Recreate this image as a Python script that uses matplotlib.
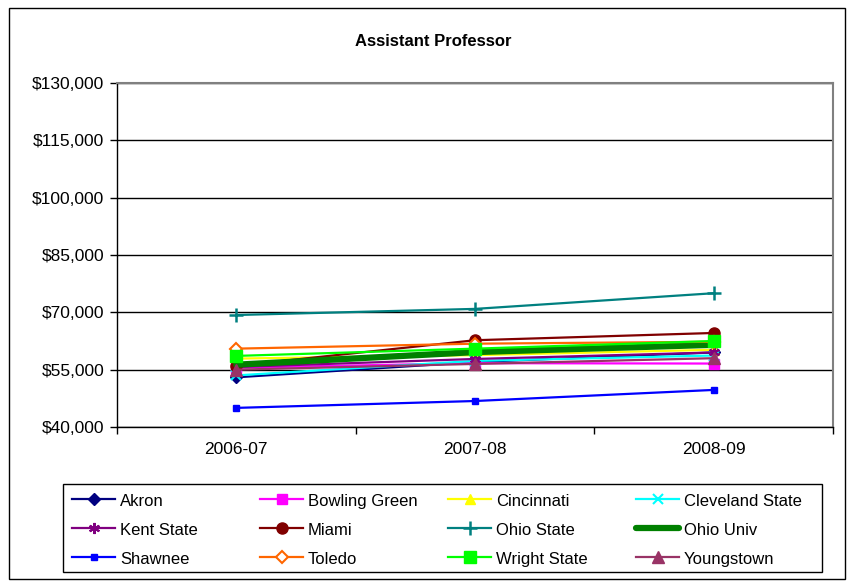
import matplotlib.pyplot as plt
from matplotlib.patches import Rectangle
from matplotlib.lines import Line2D
from matplotlib.ticker import FuncFormatter

plt.rcParams['font.family'] = ['Liberation Sans', 'DejaVu Sans']

# Salary data
years = ['2006-07', '2007-08', '2008-09']
akron = [53000, 57000, 59500]
bowling_green = [55500, 56700, 56600]
cincinnati = [57900, 58800, 60200]
cleveland_state = [53500, 57300, 58700]
kent_state = [55700, 57800, 59500]
miami = [56000, 62700, 64600]
ohio_state = [69300, 70900, 75000]
ohio_univ = [56300, 59600, 61500]
shawnee = [45000, 46800, 49700]
toledo = [60500, 61800, 62300]
wright_state = [58600, 60500, 62500]
youngstown = [55000, 56500, 58000]

W, H = 851, 581
fig = plt.figure(figsize=(W / 100, H / 100), dpi=100)
ax = fig.add_axes([117 / W, 1 - 427 / H, (833 - 117) / W, (427 - 83) / H])

x = range(len(years))
lw = 1.6
ms = 7

# name, values, style
styles = [
    ('Akron', akron, dict(color='#000080', lw=lw, marker='D', ms=6)),
    ('Bowling Green', bowling_green, dict(color='#FF00FF', lw=lw, marker='s', ms=ms)),
    ('Cincinnati', cincinnati, dict(color='#FFFF00', lw=lw, marker='^', ms=ms)),
    ('Cleveland State', cleveland_state, dict(color='#00FFFF', lw=lw, marker='x', ms=ms, mew=1.5)),
    ('Kent State', kent_state, dict(color='#800080', lw=lw, marker=(6, 2, 0), ms=ms + 1, mew=1.5)),
    ('Miami', miami, dict(color='#800000', lw=lw, marker='o', ms=ms + 1)),
    ('Ohio State', ohio_state, dict(color='#008080', lw=lw, marker='+', ms=ms + 3, mew=1.8)),
    ('Ohio Univ', ohio_univ, dict(color='#008000', lw=4.5, solid_capstyle='round')),
    ('Shawnee', shawnee, dict(color='#0000FF', lw=lw, marker='s', ms=4)),
    ('Toledo', toledo, dict(color='#FF6600', lw=lw, marker='D', ms=6, mfc='white', mew=1.5)),
    ('Wright State', wright_state, dict(color='#00FF00', lw=lw, marker='s', ms=ms + 2)),
    ('Youngstown', youngstown, dict(color='#993366', lw=lw, marker='^', ms=ms + 2)),
]

for name, vals, st in styles:
    ax.plot(x, vals, label=name, **st)

ax.set_xlim(-0.5, 2.5)
ax.set_ylim(40000, 130000)
ax.set_yticks(range(40000, 130001, 15000))
ax.yaxis.set_major_formatter(FuncFormatter(lambda v, p: f'${v:,.0f}'))
ax.set_xticks(list(x))
ax.set_xticklabels(years)
ax.set_xticks([-0.5, 0.5, 1.5, 2.5], minor=True)
ax.tick_params(axis='x', which='major', length=0, pad=11, labelsize=12.5)
ax.tick_params(axis='x', which='minor', length=5, direction='out', width=1)
ax.tick_params(axis='y', length=5, direction='out', width=1, labelsize=12.5, pad=4)
ax.yaxis.grid(True, color='black', lw=1)
ax.set_axisbelow(True)

for s in ['top', 'right']:
    ax.spines[s].set_color('#808080')
    ax.spines[s].set_linewidth(1.5)
for s in ['left', 'bottom']:
    ax.spines[s].set_color('black')
    ax.spines[s].set_linewidth(1)

fig.text(433 / W, 1 - 41 / H, 'Assistant Professor', ha='center', va='center',
         fontsize=12, fontweight='bold')

# legend drawn by hand: Excel spaces the columns evenly
fig.patches.append(Rectangle((63 / W, 1 - 572 / H), (822 - 63) / W, (572 - 484) / H,
                             transform=fig.transFigure, fill=False,
                             edgecolor='black', lw=1))
for i, (name, vals, st) in enumerate(styles):
    col, row = i % 4, i // 4
    x0 = 72 + 188 * col
    y0 = 499 + 29 * row
    xs = [x0 / W, (x0 + 21.5) / W, (x0 + 43) / W]
    ys = [1 - y0 / H] * 3
    fig.add_artist(Line2D(xs, ys, transform=fig.transFigure, markevery=[1], **st))
    fig.text((x0 + 48) / W, 1 - (y0 + 1) / H, name, ha='left', va='center_baseline',
             fontsize=12)

fig.patches.append(Rectangle((9 / W, 2 / H), 836 / W, 571 / H,
                             transform=fig.transFigure, fill=False,
                             edgecolor='black', lw=1))

fig.savefig('out.png', dpi=100)
